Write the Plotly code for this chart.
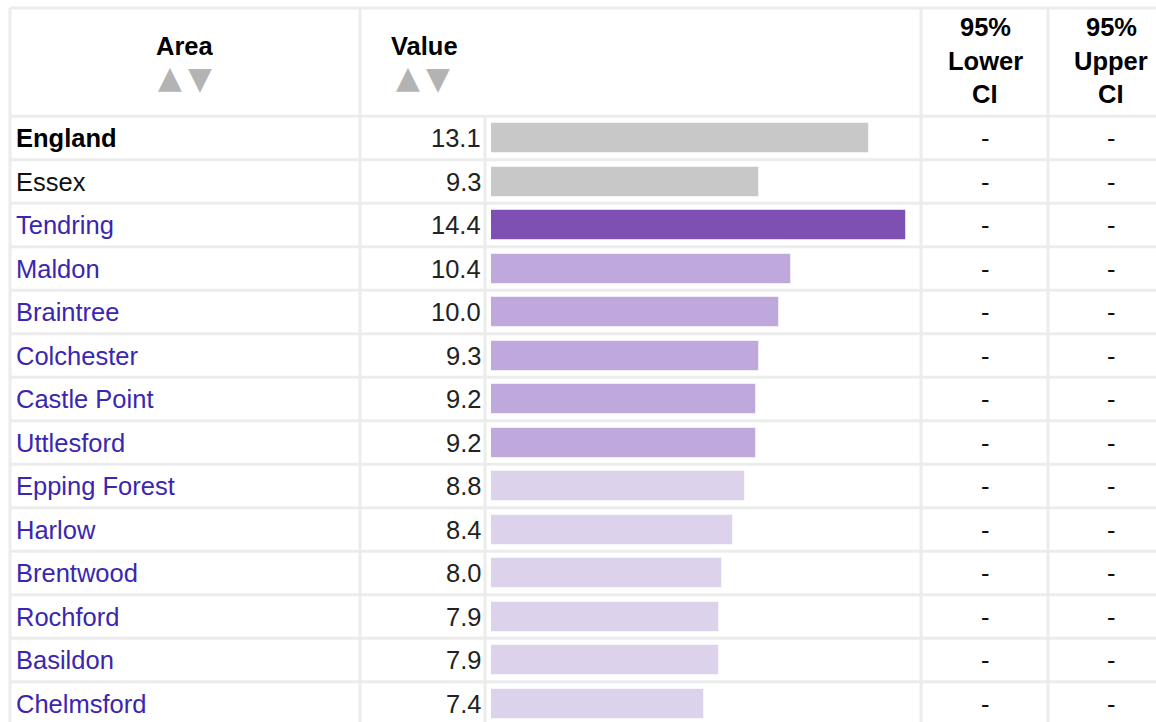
import plotly.graph_objects as go

# ---------------- data ----------------
areas = ["England", "Essex", "Tendring", "Maldon", "Braintree", "Colchester",
         "Castle Point", "Uttlesford", "Epping Forest", "Harlow", "Brentwood",
         "Rochford", "Basildon", "Chelmsford"]
values = [13.1, 9.3, 14.4, 10.4, 10.0, 9.3, 9.2, 9.2, 8.8, 8.4, 8.0, 7.9, 7.9, 7.4]
lower_ci = ["-", "-", "-", "-", "-", "-", "-", "-", "-", "-", "-", "-", "-", "-"]
upper_ci = ["-", "-", "-", "-", "-", "-", "-", "-", "-", "-", "-", "-", "-", "-"]
groups = ["national", "region", "highest", "high", "high", "high", "high", "high",
          "low", "low", "low", "low", "low", "low"]
headers = ["Area", "Value", "95%<br>Lower<br>CI", "95%<br>Upper<br>CI"]

# ---------------- styles ----------------
W, H = 1156, 722
ROW0, PITCH = 138.0, 43.5
FONT = "Liberation Sans, Arial, sans-serif"
FS = 25.5
GRID = "#ececec"
group_colors = {"national": "#c8c8c8", "region": "#c8c8c8", "highest": "#7f50b3",
                "high": "#bea8dc", "low": "#ddd2ec"}
name_colors = {"national": "#000000", "region": "#111111"}
LINK = "#3a26b0"


def py(p):
    """page pixel (from top) -> row units"""
    return (p - ROW0) / PITCH


def px(p):
    """page pixel (from left) -> paper fraction"""
    return p / W


n = len(areas)
rows = list(range(n))

fig = go.Figure()
fig.add_trace(go.Bar(
    x=values, y=rows, orientation="h", width=30 / PITCH,
    marker=dict(color=[group_colors[g] for g in groups],
                line=dict(color="rgba(255,255,255,0.55)", width=1)),
    hoverinfo="skip", showlegend=False,
))

ann = []
shapes = []

# body text
for i, (a, v, lo, up, g) in enumerate(zip(areas, values, lower_ci, upper_ci, groups)):
    ann.append(dict(x=px(14), y=i, xref="paper", yref="y", xanchor="left", yanchor="middle",
                    text=f"<b>{a}</b>" if g == "national" else a, showarrow=False,
                    font=dict(family=FONT, size=FS, color=name_colors.get(g, LINK))))
    ann.append(dict(x=px(483), y=i, xref="paper", yref="y", xanchor="right", yanchor="middle",
                    text=f"{v:.1f}", showarrow=False,
                    font=dict(family=FONT, size=FS, color="#222222")))
    ann.append(dict(x=px(985), y=i, xref="paper", yref="y", xanchor="center", yanchor="middle",
                    text=lo, showarrow=False, font=dict(family=FONT, size=FS, color="#111111")))
    ann.append(dict(x=px(1111), y=i, xref="paper", yref="y", xanchor="center", yanchor="middle",
                    text=up, showarrow=False, font=dict(family=FONT, size=FS, color="#111111")))

# header text
hdr_font = dict(family=FONT, size=FS, color="#000000")
ann.append(dict(x=px(185), y=py(46), xref="paper", yref="y", xanchor="center",
                yanchor="middle", text=f"<b>{headers[0]}</b>", showarrow=False, font=hdr_font))
ann.append(dict(x=px(424), y=py(46), xref="paper", yref="y", xanchor="center",
                yanchor="middle", text=f"<b>{headers[1]}</b>", showarrow=False, font=hdr_font))
for cx, h in ((985, headers[2]), (1111, headers[3])):
    for k, line in enumerate(h.split("<br>")):
        ann.append(dict(x=px(cx), y=py(27 + 33.5 * k), xref="paper", yref="y",
                        xanchor="center", yanchor="middle",
                        text=f"<b>{line}</b>", showarrow=False, font=hdr_font))
# sort arrows
for cx in (185, 423):
    ann.append(dict(x=px(cx - 1), y=py(77), xref="paper", yref="y", xanchor="right",
                    yanchor="middle", text="▲", showarrow=False,
                    font=dict(family="DejaVu Sans", size=31, color="#b3b3b3")))
    ann.append(dict(x=px(cx + 1), y=py(78), xref="paper", yref="y", xanchor="left",
                    yanchor="middle", text="▼", showarrow=False,
                    font=dict(family="DejaVu Sans", size=31, color="#b3b3b3")))

# grid lines
top = py(8)
bottom = py(H + 5)
shapes.append(dict(type="line", xref="paper", yref="y", x0=px(10), x1=1, y0=top, y1=top,
                   line=dict(color=GRID, width=3)))
for i in range(-1, n - 1):
    shapes.append(dict(type="line", xref="paper", yref="y", x0=px(10), x1=1,
                       y0=i + 0.5, y1=i + 0.5, line=dict(color=GRID, width=3)))
for xx in (10, 360, 921, 1048):
    shapes.append(dict(type="line", xref="paper", yref="y", x0=px(xx), x1=px(xx),
                       y0=top, y1=bottom, line=dict(color=GRID, width=3)))
shapes.append(dict(type="line", xref="paper", yref="y", x0=px(485), x1=px(485),
                   y0=-0.5, y1=bottom, line=dict(color=GRID, width=3)))

fig.update_layout(
    width=W, height=H, margin=dict(l=0, r=0, t=0, b=0),
    paper_bgcolor="white", plot_bgcolor="white",
    xaxis=dict(domain=[px(491), px(906)], range=[0, max(values)], visible=False,
               fixedrange=True),
    yaxis=dict(range=[py(H), py(0)], visible=False, fixedrange=True),
    annotations=ann, shapes=shapes, bargap=0,
)

fig.write_html(
    "out.html", config={"displayModeBar": False},
    post_script="document.body.style.margin='0';document.body.style.overflow='hidden';",
)
